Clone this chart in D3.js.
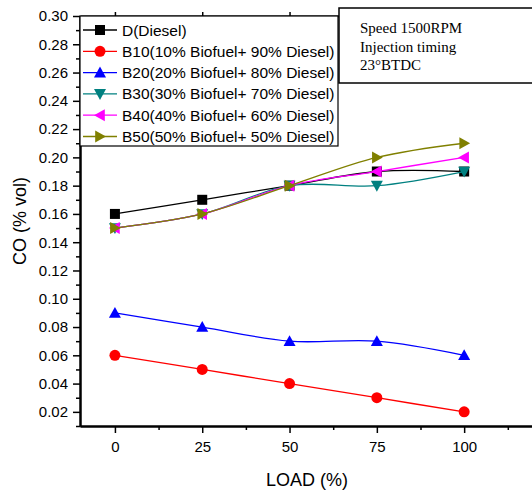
<!DOCTYPE html>
<html lang="en">
<head>
<meta charset="utf-8">
<title>CO vs load</title>
<script src="https://d3js.org/d3.v7.min.js"></script>
<style>
body { margin: 0; background: #fff; }
svg text { font-family: "Liberation Sans", Arial, sans-serif; fill: #000; }
.info text { font-family: "Liberation Serif", "Times New Roman", serif; }
</style>
</head>
<body>
<svg width="532" height="491"></svg>
<script>

var loads = [0, 25, 50, 75, 100];
var seriesNames = ["D(Diesel)", "B10(10% Biofuel+ 90% Diesel)", "B20(20% Biofuel+ 80% Diesel)",
  "B30(30% Biofuel+ 70% Diesel)", "B40(40% Biofuel+ 60% Diesel)", "B50(50% Biofuel+ 50% Diesel)"];
var dieselCO = [0.16, 0.17, 0.18, 0.19, 0.19];
var b10CO = [0.06, 0.05, 0.04, 0.03, 0.02];
var b20CO = [0.09, 0.08, 0.07, 0.07, 0.06];
var b30CO = [0.15, 0.16, 0.18, 0.18, 0.19];
var b40CO = [0.15, 0.16, 0.18, 0.19, 0.20];
var b50CO = [0.15, 0.16, 0.18, 0.20, 0.21];
var xTicks = [0, 25, 50, 75, 100];
var yTicks = [0.02, 0.04, 0.06, 0.08, 0.10, 0.12, 0.14, 0.16, 0.18, 0.20, 0.22, 0.24, 0.26, 0.28, 0.30];
var infoLines = ["Speed 1500RPM", "Injection timing", "23°BTDC"];

var colors = ["#000000", "#ff0000", "#0000ff", "#008080", "#ff00ff", "#808000"];
var symbols = ["square", "circle", "up", "down", "left", "right"];
var values = [dieselCO, b10CO, b20CO, b30CO, b40CO, b50CO];

var svg = d3.select("svg");

var plotL = 80, plotR = 534, plotT = 16, plotB = 426;

var x = d3.scaleLinear().domain([-10, 120]).range([plotL, plotR]);
var y = d3.scaleLinear().domain([0.01, 0.30]).range([plotB, plotT]);

// axes
var xAxis = svg.append("g").attr("transform", `translate(0,${plotB})`)
  .call(d3.axisBottom(x).tickValues(xTicks).tickFormat(d3.format("d")).tickSize(7).tickSizeOuter(0));
svg.append("g").attr("transform", `translate(0,${plotB})`)
  .call(d3.axisBottom(x).tickValues([12.5, 37.5, 62.5, 87.5, 112.5]).tickFormat("").tickSize(4).tickSizeOuter(0));
var yAxis = svg.append("g").attr("transform", `translate(${plotL},0)`)
  .call(d3.axisLeft(y).tickValues(yTicks).tickFormat(d3.format(".2f")).tickSize(7).tickSizeOuter(0));
svg.append("g").attr("transform", `translate(${plotL},0)`)
  .call(d3.axisLeft(y).tickValues(d3.range(0.01, 0.30, 0.02)).tickFormat("").tickSize(4).tickSizeOuter(0));
svg.append("g").attr("transform", `translate(0,${plotT})`)
  .call(d3.axisTop(x).tickValues(xTicks).tickFormat("").tickSize(4).tickSizeOuter(0));

svg.selectAll(".domain").attr("stroke", "#000").attr("stroke-width", 2);
svg.selectAll(".tick line").attr("stroke", "#000").attr("stroke-width", 1.5);
xAxis.selectAll("text").attr("font-size", 15).attr("dy", "1.05em");
yAxis.selectAll("text").attr("font-size", 15).attr("x", -12);
svg.selectAll(".tick text").style("font-family", "Liberation Sans, Arial, sans-serif");

svg.append("text").attr("x", 307).attr("y", 486).attr("text-anchor", "middle")
  .attr("font-size", 18).text("LOAD (%)");
svg.append("text").attr("transform", `translate(26,${(plotT + plotB) / 2}) rotate(-90)`)
  .attr("text-anchor", "middle").attr("font-size", 18).text("CO (% vol)");

// markers
function marker(g, type, color) {
  var s = 6;
  if (type === "square") g.append("rect").attr("x", -5).attr("y", -5).attr("width", 10).attr("height", 10).attr("fill", color);
  else if (type === "circle") g.append("circle").attr("r", 5.5).attr("fill", color);
  else {
    var pts = {
      up: [[0, -s], [s, s * 0.8], [-s, s * 0.8]],
      down: [[0, s], [s, -s * 0.8], [-s, -s * 0.8]],
      left: [[-s, 0], [s * 0.8, -s], [s * 0.8, s]],
      right: [[s, 0], [-s * 0.8, -s], [-s * 0.8, s]]
    }[type];
    g.append("polygon").attr("points", pts.map(p => p.join(",")).join(" ")).attr("fill", color);
  }
}

var line = d3.line().x((d, i) => x(loads[i])).y(d => y(d)).curve(d3.curveCatmullRom.alpha(0.5));

values.forEach(function(vals, k) {
  svg.append("path").datum(vals).attr("d", line)
    .attr("fill", "none").attr("stroke", colors[k]).attr("stroke-width", 1.3);
  vals.forEach(function(v, i) {
    var g = svg.append("g").attr("transform", `translate(${x(loads[i])},${y(v)})`);
    marker(g, symbols[k], colors[k]);
  });
});

// legend
var lg = svg.append("g");
lg.append("rect").attr("x", plotL).attr("y", plotT).attr("width", 258).attr("height", 130)
  .attr("fill", "#fff").attr("stroke", "#000").attr("stroke-width", 1.2);
seriesNames.forEach(function(name, k) {
  var cy = 30 + k * 21.3;
  lg.append("line").attr("x1", 83).attr("x2", 117).attr("y1", cy).attr("y2", cy)
    .attr("stroke", colors[k]).attr("stroke-width", 1.3);
  marker(lg.append("g").attr("transform", `translate(100,${cy})`), symbols[k], colors[k]);
  lg.append("text").attr("x", 122).attr("y", cy).attr("dy", "0.36em")
    .attr("font-size", 15.5).text(name);
});

// info box
var info = svg.append("g").attr("class", "info");
info.append("rect").attr("x", 339).attr("y", 8).attr("width", 210).attr("height", 75)
  .attr("fill", "#fff").attr("stroke", "#000").attr("stroke-width", 1.5);
infoLines.forEach(function(t, i) {
  info.append("text").attr("x", 360).attr("y", 33 + i * 18.5).attr("font-size", 15).text(t);
});

</script>
</body>
</html>
